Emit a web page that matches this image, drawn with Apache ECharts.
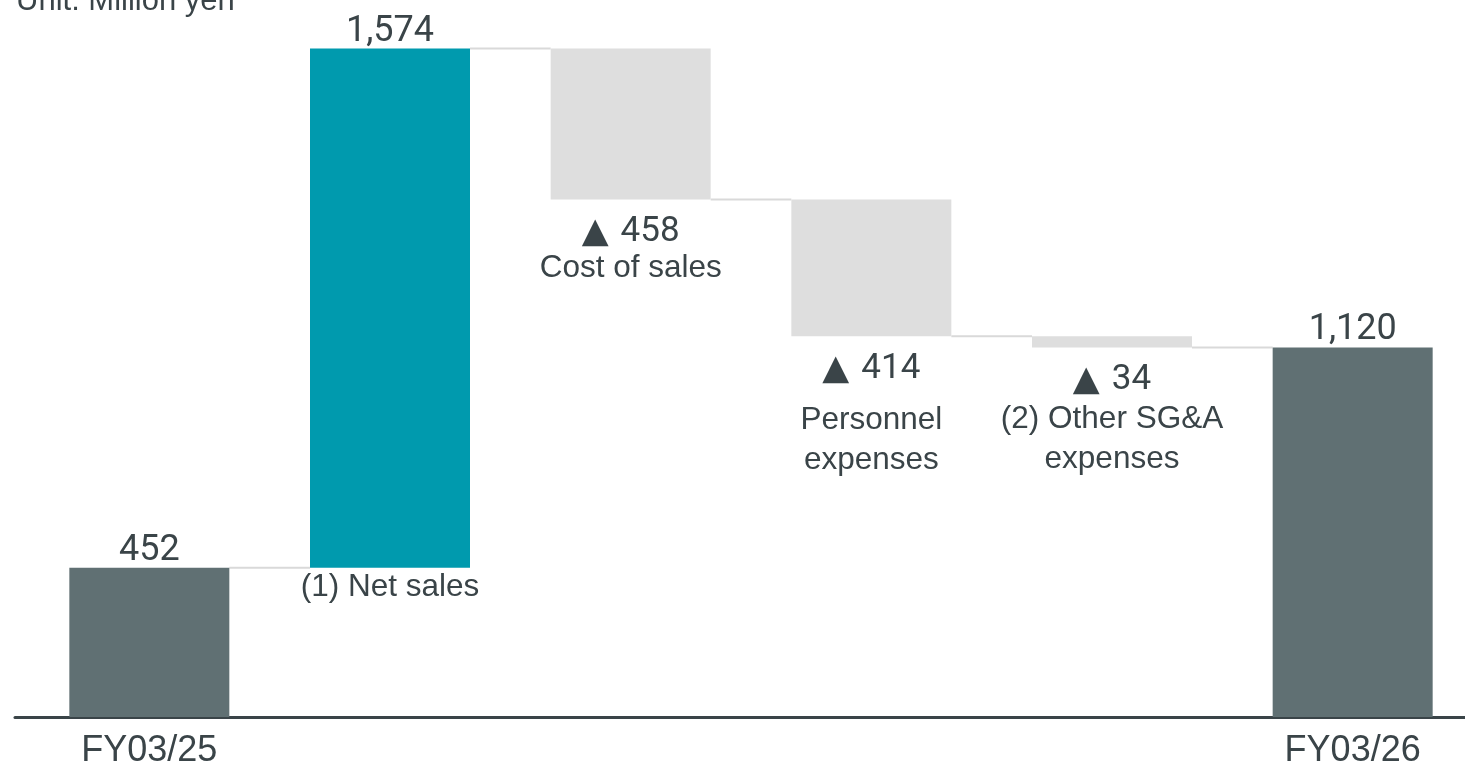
<!DOCTYPE html>
<html>
<head>
<meta charset="utf-8">
<title>Operating profit bridge</title>
<script src="https://cdn.jsdelivr.net/npm/echarts@6/dist/echarts.min.js"></script>
<style>
  html, body { margin: 0; padding: 0; background: #ffffff; }
  #chart { width: 1465px; height: 764px; }
</style>
</head>
<body>
<div id="chart"></div>
<script>
// Bridge from FY03/25 to FY03/26 (million yen)
const categories = ['FY03/25', '(1) Net sales', 'Cost of sales', 'Personnel\nexpenses', '(2) Other SG&A\nexpenses', 'FY03/26'];
const kinds = ['total', 'increase', 'decrease', 'decrease', 'decrease', 'total'];
const amounts = [452, 1574, 458, 414, 34, 1120];

// Layout and style settings
const TEXT = '#3a4448';
const COLORS = { total: '#607073', increase: '#009aae', decrease: '#dedede' };
const BAR_W = 160;
const NAME_GAP = [0, -1, 49, 64, 52, 0];   // name label offset under each floating bar
const NUM_FONT = 'Roboto';
const TXT_FONT = '"Liberation Sans", Arial, sans-serif';

// Running totals: invisible base + visible step for each category
const bases = [], steps = [], levels = [];
let running = 0;
kinds.forEach((k, i) => {
  const a = amounts[i];
  if (k === 'total') { bases.push(0); steps.push(a); running = a; }
  else if (k === 'increase') { bases.push(running); steps.push(a); running += a; }
  else { running -= a; bases.push(running); steps.push(a); }
  levels.push(running);
});

const fmt = v => v.toLocaleString('en-US');

const baseData = bases.map((b, i) => ({
  value: b,
  label: kinds[i] === 'total' ? { show: false } : {
    show: true,
    position: 'insideTop',
    distance: NAME_GAP[i],
    formatter: () => categories[i].split('\n').map(s => '{nm|' + s + '}').join('\n'),
    rich: { nm: { fontFamily: TXT_FONT, fontSize: 31.5, lineHeight: 40, color: TEXT } }
  }
}));

const stepData = steps.map((s, i) => {
  const k = kinds[i];
  const label = k === 'decrease' ? {
    show: true,
    position: 'bottom',
    distance: 13,
    formatter: () => '{t|▲}{n|' + fmt(amounts[i]) + '}',
    rich: {
      t: { fontFamily: '"DejaVu Sans"', fontSize: 35, color: TEXT, lineHeight: 40, verticalAlign: 'bottom', padding: [0, 12, 2, 0] },
      n: { fontFamily: NUM_FONT, fontSize: 35, color: TEXT, lineHeight: 40 }
    }
  } : {
    show: true,
    position: 'top',
    distance: -1,
    formatter: () => fmt(amounts[i]),
    fontFamily: NUM_FONT, fontSize: 36, lineHeight: 36, color: TEXT
  };
  return { value: s, itemStyle: { color: COLORS[k] }, label };
});

const connectorData = levels.slice(0, -1).map((lv, i) => [i, lv]);

const chart = echarts.init(document.getElementById('chart'), null, { renderer: 'canvas' });
chart.setOption({
  animation: false,
  backgroundColor: '#ffffff',
  graphic: [{
    type: 'text',
    x: 16, y: 17,
    style: { text: 'Unit: Million yen', font: '31px "Liberation Sans", Arial, sans-serif', fill: TEXT, verticalAlign: 'bottom' }
  }],
  grid: [
    { left: 29, width: 1444, top: 0, bottom: 47, outerBoundsMode: 'none', containLabel: false },
    { left: 15, right: 0, top: 0, bottom: 47, outerBoundsMode: 'none', containLabel: false }
  ],
  xAxis: [{
    type: 'category',
    gridIndex: 0,
    data: categories,
    axisLine: { show: false },
    axisTick: { show: false },
    axisLabel: {
      interval: 0,
      margin: 16,
      fontFamily: TXT_FONT,
      fontSize: 36,
      color: TEXT,
      formatter: (v, i) => kinds[i] === 'total' ? v : ''
    }
  }, {
    type: 'value',
    gridIndex: 1,
    min: 0, max: 1,
    axisLine: { show: true, lineStyle: { color: TEXT, width: 3 } },
    axisTick: { show: false },
    axisLabel: { show: false },
    splitLine: { show: false }
  }],
  yAxis: [
    { type: 'value', gridIndex: 0, min: 0, max: 2173, show: false },
    { type: 'value', gridIndex: 1, min: 0, max: 1, show: false }
  ],
  series: [{
    name: 'base',
    type: 'bar',
    stack: 'bridge',
    barWidth: BAR_W,
    itemStyle: { color: 'rgba(0,0,0,0)' },
    emphasis: { disabled: true },
    silent: true,
    data: baseData
  }, {
    name: 'step',
    type: 'bar',
    stack: 'bridge',
    barWidth: BAR_W,
    emphasis: { disabled: true },
    data: stepData
  }, {
    name: 'connector',
    type: 'custom',
    silent: true,
    z: 1,
    data: connectorData,
    encode: { x: 0, y: 1 },
    renderItem: (params, api) => {
      const p0 = api.coord([api.value(0), api.value(1)]);
      const p1 = api.coord([api.value(0) + 1, api.value(1)]);
      return {
        type: 'line',
        shape: { x1: p0[0] + BAR_W / 2, y1: p0[1], x2: p1[0] - BAR_W / 2, y2: p1[1] },
        style: { stroke: '#d9d9d9', lineWidth: 2 }
      };
    }
  }]
});
</script>
</body>
</html>
